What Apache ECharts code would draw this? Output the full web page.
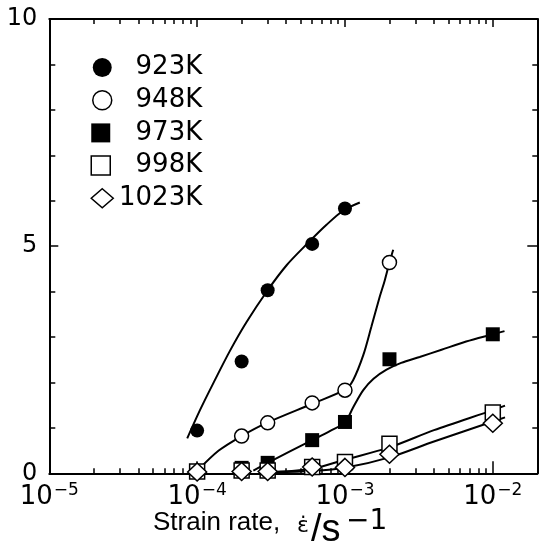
<!DOCTYPE html>
<html>
<head>
<meta charset="utf-8">
<script src="https://cdn.jsdelivr.net/npm/echarts@6/dist/echarts.min.js"></script>
<style>
html,body{margin:0;padding:0;background:#fff;}
#chart{width:541px;height:545px;}
</style>
</head>
<body>
<div id="chart"></div>
<script>
// ---- data ----
const seriesNames = ['923K', '948K', '973K', '998K', '1023K'];

const rates923 = [1e-4, 2e-4, 3e-4, 6e-4, 1e-3];
const vals923  = [0.94, 2.46, 4.03, 5.05, 5.83];
const rates948 = [1e-4, 2e-4, 3e-4, 6e-4, 1e-3, 2e-3];
const vals948  = [0.04, 0.82, 1.11, 1.55, 1.83, 4.64];
const rates973 = [1e-4, 2e-4, 3e-4, 6e-4, 1e-3, 2e-3, 1e-2];
const vals973  = [0.04, 0.12, 0.23, 0.73, 1.13, 2.51, 3.06];
const rates998 = [1e-4, 2e-4, 3e-4, 6e-4, 1e-3, 2e-3, 1e-2];
const vals998  = [0.04, 0.06, 0.06, 0.14, 0.25, 0.65, 1.34];
const rates1023 = [1e-4, 2e-4, 3e-4, 6e-4, 1e-3, 2e-3, 1e-2];
const vals1023  = [0.03, 0.04, 0.04, 0.14, 0.13, 0.42, 1.10];

// fitted curves
const fit923X = [8.57e-5, 1.045e-4, 1.285e-4, 1.67e-4, 2.16e-4, 3e-4, 4.03e-4, 5.58e-4, 7.5e-4, 9.7e-4, 1.26e-3];
const fit923Y = [0.77, 1.39, 1.98, 2.70, 3.33, 4.03, 4.58, 5.06, 5.47, 5.78, 5.96];
const fit948X = [1e-4, 1.4e-4, 2e-4, 3e-4, 6e-4, 1e-3, 1.135e-3, 1.33e-3, 1.51e-3, 1.72e-3, 1.86e-3, 2e-3, 2.12e-3];
const fit948Y = [0.05, 0.50, 0.82, 1.12, 1.53, 1.84, 2.05, 2.60, 3.23, 3.89, 4.25, 4.64, 4.92];
const fit973X = [2.4e-4, 3e-4, 6e-4, 7.9e-4, 1e-3, 1.135e-3, 1.33e-3, 1.56e-3, 1.91e-3, 2.4e-3, 3.2e-3, 4.5e-3, 6.6e-3, 1e-2, 1.2e-2];
const fit973Y = [0.06, 0.23, 0.73, 0.93, 1.12, 1.45, 1.83, 2.08, 2.28, 2.43, 2.56, 2.72, 2.90, 3.06, 3.13];
const fit998X = [3.3e-4, 6e-4, 1e-3, 2e-3, 4e-3, 1e-2, 1.21e-2];
const fit998Y = [0.03, 0.10, 0.30, 0.57, 0.95, 1.39, 1.49];
const fit1023X = [3.3e-4, 6e-4, 1e-3, 2e-3, 4e-3, 1e-2, 1.21e-2];
const fit1023Y = [0.02, 0.05, 0.12, 0.35, 0.70, 1.14, 1.23];

// axis ticks / labels
const xMin = 1e-5, xMax = 2e-2;
const decadeTicks = [1e-5, 1e-4, 1e-3, 1e-2];
const minorTicks = [2e-5, 3e-5, 4e-5, 5e-5, 6e-5, 7e-5, 8e-5, 9e-5,
                    2e-4, 3e-4, 4e-4, 5e-4, 6e-4, 7e-4, 8e-4, 9e-4,
                    2e-3, 3e-3, 4e-3, 5e-3, 6e-3, 7e-3, 8e-3, 9e-3];
const yMin = 0, yMax = 10, yStep = 5;

const pair = (xs, ys) => xs.map((x, i) => [x, ys[i]]);

const chart = echarts.init(document.getElementById('chart'), null, {renderer: 'canvas'});
const gridRect = {left: 49.3, right: 3.7, top: 19, bottom: 71.7};
const BLACK = '#000';
const numFont = 'DejaVu Sans';

function logAxis(gridIndex, position, ticks, len, showLine, showLabel) {
  return {
    type: 'log', logBase: 10, min: xMin, max: xMax, gridIndex, position,
    axisLine: {show: showLine, onZero: false, lineStyle: {color: BLACK, width: 2}},
    axisTick: {show: true, inside: true, length: len, customValues: ticks, lineStyle: {color: BLACK, width: 1.5}},
    axisLabel: {
      show: showLabel, customValues: decadeTicks, margin: 9,
      formatter: v => '{b|10}{s|−' + Math.abs(Math.round(Math.log10(v))) + '}',
      rich: {
        b: {fontFamily: numFont, fontSize: 26, lineHeight: 28, color: BLACK, verticalAlign: 'bottom'},
        s: {fontFamily: numFont, fontSize: 17, lineHeight: 28, color: BLACK, verticalAlign: 'top', padding: [0, 0, 6, 1]}
      }
    },
    splitLine: {show: false}, minorTick: {show: false}, minorSplitLine: {show: false}
  };
}
function linAxis(gridIndex, position, showLine, showLabel, majorLen, minorLen, show) {
  return {
    type: 'value', min: yMin, max: yMax, interval: yStep, gridIndex, position, show: show !== false,
    axisLine: {show: showLine, onZero: false, lineStyle: {color: BLACK, width: 2}},
    axisTick: {show: true, inside: true, length: majorLen, lineStyle: {color: BLACK, width: 1.5}},
    minorTick: {show: true, splitNumber: 5, length: minorLen, lineStyle: {color: BLACK, width: 1.5}},
    axisLabel: {
      show: showLabel, margin: 12,
      formatter: '{v|{value}}',
      rich: {v: {fontFamily: numFont, fontSize: 24, lineHeight: 26, color: BLACK}}
    },
    splitLine: {show: false}
  };
}

const markerDefs = [
  {name: '923K', rates: rates923, vals: vals923, symbol: 'circle', size: 14, fill: BLACK},
  {name: '948K', rates: rates948, vals: vals948, symbol: 'circle', size: 14, fill: '#fff'},
  {name: '973K', rates: rates973, vals: vals973, symbol: 'rect', size: 14, fill: BLACK},
  {name: '998K', rates: rates998, vals: vals998, symbol: 'rect', size: 15, fill: '#fff'},
  {name: '1023K', rates: rates1023, vals: vals1023, symbol: 'diamond', size: [19, 18], fill: '#fff'}
];
const fitDefs = [[fit923X, fit923Y], [fit948X, fit948Y], [fit973X, fit973Y], [fit998X, fit998Y], [fit1023X, fit1023Y]];

const series = [];
fitDefs.forEach((f, i) => {
  series.push({
    type: 'line', name: 'fit' + seriesNames[i], xAxisIndex: 0, yAxisIndex: 0,
    data: pair(f[0], f[1]), showSymbol: false, symbol: 'none', smooth: 0.3,
    lineStyle: {color: BLACK, width: 2}, z: 2, silent: true
  });
});
markerDefs.forEach(m => {
  series.push({
    type: 'scatter', name: m.name, xAxisIndex: 0, yAxisIndex: 0,
    data: pair(m.rates, m.vals), symbol: m.symbol, symbolSize: m.size,
    itemStyle: {color: m.fill, borderColor: BLACK, borderWidth: m.fill === BLACK ? 0 : 1.5, opacity: 1},
    z: 3
  });
});

const legendIcons = [
  {name: '923K', icon: 'circle', itemStyle: {color: BLACK, borderWidth: 0}},
  {name: '948K', icon: 'circle', itemStyle: {color: '#fff', borderColor: BLACK, borderWidth: 1.5}},
  {name: '973K', icon: 'square', itemStyle: {color: BLACK, borderWidth: 0}},
  {name: '998K', icon: 'square', itemStyle: {color: '#fff', borderColor: BLACK, borderWidth: 1.5}},
  {name: '1023K', icon: 'diamond', itemStyle: {color: '#fff', borderColor: BLACK, borderWidth: 1.5}}
];

chart.setOption({
  animation: false,
  backgroundColor: '#fff',
  grid: [Object.assign({}, gridRect), Object.assign({}, gridRect)],
  xAxis: [
    logAxis(0, 'bottom', decadeTicks, 12, true, true),
    logAxis(0, 'top', decadeTicks, 8, true, false),
    logAxis(1, 'bottom', minorTicks, 5, false, false),
    logAxis(1, 'top', minorTicks, 5, false, false)
  ],
  yAxis: [
    linAxis(0, 'left', true, true, 9, 6),
    linAxis(0, 'right', true, false, 10, 5),
    linAxis(1, 'left', false, false, 0, 0, false)
  ],
  legend: {
    orient: 'vertical', left: 85.5, top: 49.5, padding: 5,
    itemWidth: 22, itemHeight: 19, itemGap: 6.7, itemTextGap: 5,
    selectedMode: false,
    data: legendIcons,
    formatter: '{t|{name}}',
    textStyle: {
      color: BLACK,
      rich: {t: {fontFamily: numFont, fontSize: 26, lineHeight: 19, width: 84, align: 'right', color: BLACK}}
    }
  },
  graphic: [
    {type: 'text', left: 153, top: 509.6, style: {text: 'Strain rate,', font: '26px "Liberation Sans"', fill: BLACK}},
    {type: 'text', left: 297, top: 515, style: {text: 'ε̇', font: '22px "DejaVu Sans"', fill: BLACK}},
    {type: 'text', left: 311, top: 511.2, style: {text: '/s', font: '38px "Liberation Sans"', fill: BLACK}},
    {type: 'text', left: 346, top: 507.7, style: {text: '−1', font: '28px "DejaVu Sans"', fill: BLACK}}
  ],
  series
});
</script>
</body>
</html>
